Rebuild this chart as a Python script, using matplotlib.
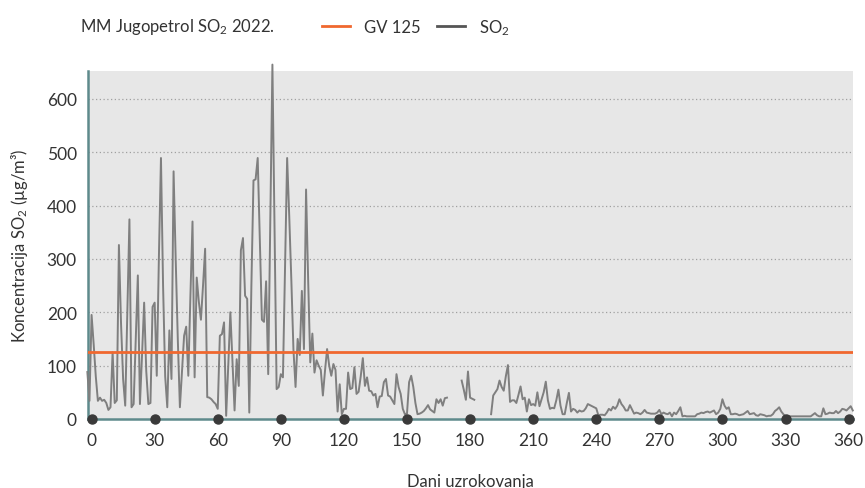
import numpy as np
import matplotlib
matplotlib.use("Agg")
import matplotlib.pyplot as plt
from matplotlib.lines import Line2D

plt.rcParams['font.family'] = ['Lato', 'DejaVu Sans']
plt.rcParams['font.weight'] = 'normal'
plt.rcParams['mathtext.default'] = 'regular'

# ---- data ----
first_day = -2
so2_values = [
    88, 34,                                             # -2, -1
    195, 140, 80, 34, 40, 34, 36, 30, 17, 22,           # 0-9
    125, 30, 35, 326, 180, 75, 25, 200, 374, 22,        # 10-19
    28, 150, 269, 28, 120, 218, 90, 28, 30, 210,        # 20-29
    218, 81, 300, 489, 250, 80, 22, 166, 75, 464,       # 30-39
    300, 150, 22, 90, 156, 173, 81, 230, 370, 78,       # 40-49
    265, 220, 186, 250, 319, 41, 40, 37, 32, 28,        # 50-59
    19, 156, 159, 181, 6, 100, 200, 110, 16, 112,       # 60-69
    62, 316, 339, 231, 225, 12, 250, 447, 449, 489,     # 70-79
    340, 186, 182, 258, 84, 380, 664, 360, 56, 60,      # 80-89
    84, 78, 280, 489, 380, 260, 130, 60, 150, 120,      # 90-99
    240, 131, 430, 260, 106, 160, 87, 110, 100, 92,     # 100-109
    44, 90, 131, 100, 81, 103, 92, 14, 65, 9,           # 110-119
    19, 19, 87, 56, 58, 97, 47, 51, 80, 114,            # 120-129
    62, 78, 53, 52, 44, 47, 22, 42, 43, 69,             # 130-139
    75, 44, 42, 35, 28, 84, 60, 47, 19, 9,              # 140-149
    10, 69, 81, 60, 30, 9, 10, 12, 15, 20,              # 150-159
    26, 18, 15, 12, 37, 30, 37, 25, 39, 40,             # 160-169
    None, None, None, None, None, None, 72, 55, 36, 89, # 170-179
    40, 38, 36, None, None, None, None, None, None, None,  # 180-189
    9, 44, 50, 56, 72, 60, 53, 80, 101, 32,             # 190-199
    35, 35, 30, 45, 61, 37, 40, 14, 37, 26,             # 200-209
    28, 25, 50, 24, 37, 50, 70, 35, 19, 21,             # 210-219
    20, 35, 55, 25, 9, 9, 30, 49, 14, 19,               # 220-229
    17, 12, 16, 14, 15, 20, 28, 26, 24, 22,             # 230-239
    20, 7, 8, 8, 7, 12, 19, 16, 23, 19,                 # 240-249
    25, 37, 28, 23, 16, 16, 26, 18, 10, 12,             # 250-259
    11, 9, 12, 17, 12, 11, 10, 10, 10, 12,              # 260-269
    17, 9, 12, 10, 9, 12, 5, 12, 9, 15,                 # 270-279
    22, 5, 6, 5, 5, 5, 5, 5, 9, 10,                     # 280-289
    12, 11, 13, 14, 12, 14, 16, 9, 12, 19,              # 290-299
    37, 25, 19, 22, 9, 9, 10, 9, 7, 8,                  # 300-309
    9, 12, 15, 9, 10, 11, 7, 6, 9, 8,                   # 310-319
    7, 5, 6, 6, 9, 15, 18, 22, 14, 9,                   # 320-329
    5, 5, 5, 5, 5, 5, 5, 5, 5, 5,                       # 330-339
    5, 5, 5, 8, 11, 7, 5, 5, 20, 9,                     # 340-349
    10, 12, 11, 11, 15, 11, 14, 19, 18, 16,             # 350-359
    20, 24, 16,                                         # 360-362
]
limit_value = 125
x_ticks = list(range(0, 361, 30))
y_ticks = [0, 100, 200, 300, 400, 500, 600]

so2 = np.array([np.nan if v is None else v for v in so2_values], dtype=float)
days = np.arange(len(so2)) + first_day

TEXT = '#333333'

# ---- figure ----
W, H = 865, 489
fig = plt.figure(figsize=(W / 100, H / 100), dpi=100)
ax = fig.add_axes([88 / W, 1 - 420 / H, (853 - 88) / W, (420 - 72) / H])
ax.set_facecolor('#e7e7e7')

ax.set_xlim(-1.7, 362.1)
ax.set_ylim(0, 652)

for yv in y_ticks[1:]:
    ax.axhline(yv, color='#a0a0a0', lw=0.9, ls=(0, (1, 2)), zorder=1)

ax.plot(days, so2, color='#7f7f7f', lw=1.4, zorder=3, clip_on=False)
ax.axhline(limit_value, color='#f0682f', lw=2.0, zorder=4)

for s in ['top', 'right']:
    ax.spines[s].set_visible(False)
for s in ['left', 'bottom']:
    ax.spines[s].set_color('#5e8a8c')
    ax.spines[s].set_linewidth(1.8)

ax.set_xticks(x_ticks)
ax.set_xticklabels([str(t) for t in x_ticks])
ax.set_yticks(y_ticks)
ax.set_yticklabels([str(t) for t in y_ticks])
ax.tick_params(axis='both', length=0, labelsize=12.5, labelcolor=TEXT)
ax.tick_params(axis='x', pad=9)
ax.tick_params(axis='y', pad=8)

# dot markers on the x axis
ax.plot(x_ticks, [0] * len(x_ticks), 'o', color='#3a3a3a', ms=6.5,
        clip_on=False, zorder=6)

ax.set_xlabel('Dani uzrokovanja', fontsize=12, color=TEXT, labelpad=18)
ax.set_ylabel('Koncentracija SO$_2$ (µg/m³)', fontsize=12, color=TEXT,
              labelpad=12)

fig.text(80 / W, 1 - 27 / H, 'MM Jugopetrol SO$_2$ 2022.', fontsize=12,
         color=TEXT, ha='left', va='center')

handles = [Line2D([], [], color='#f0682f', lw=2.0),
           Line2D([], [], color='#555555', lw=2.0)]
fig.legend(handles, ['GV 125', 'SO$_2$'], loc='center left',
           bbox_to_anchor=(322 / W, 1 - 28 / H), ncol=2, frameon=False,
           fontsize=12, handlelength=1.7, handletextpad=0.8,
           columnspacing=1.0, borderpad=0, borderaxespad=0,
           labelcolor=TEXT)

fig.savefig('out.png', dpi=100)
